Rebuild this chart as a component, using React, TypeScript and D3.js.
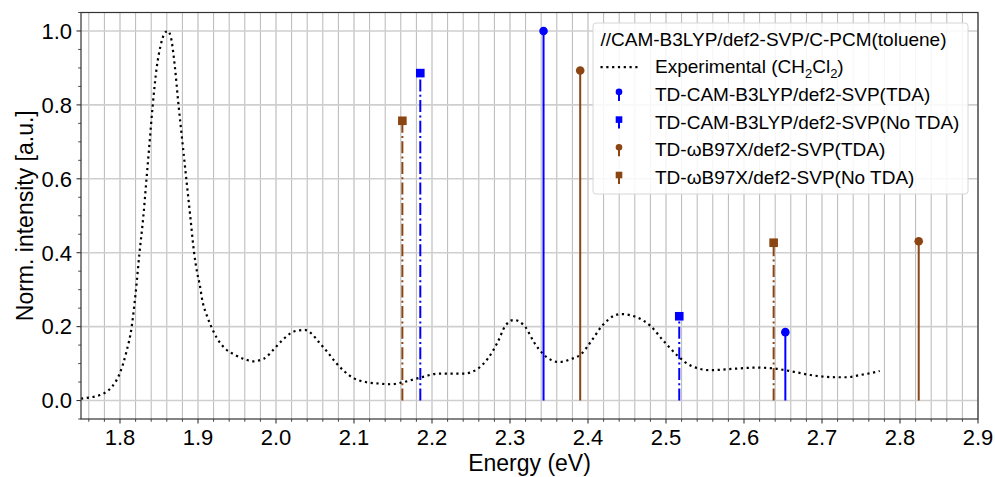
import React from 'react';
import * as d3 from 'd3';

const expEnergy = [1.75, 1.76, 1.77, 1.78, 1.79, 1.8, 1.808, 1.815, 1.82, 1.825, 1.83, 1.834, 1.838, 1.842, 1.847, 1.852, 1.857, 1.861, 1.865, 1.87, 1.875, 1.88, 1.885, 1.89, 1.895, 1.899, 1.902, 1.906, 1.911, 1.917, 1.924, 1.934, 1.946, 1.961, 1.97, 1.985, 1.996, 2.008, 2.021, 2.03, 2.037, 2.045, 2.055, 2.066, 2.077, 2.087, 2.1, 2.115, 2.132, 2.147, 2.164, 2.185, 2.209, 2.241, 2.258, 2.271, 2.284, 2.294, 2.305, 2.32, 2.331, 2.342, 2.363, 2.378, 2.391, 2.403, 2.418, 2.433, 2.442, 2.463, 2.48, 2.497, 2.515, 2.532, 2.557, 2.587, 2.617, 2.638, 2.653, 2.668, 2.685, 2.7, 2.717, 2.732, 2.749, 2.764, 2.774];
const expIntensity = [0.005, 0.008, 0.012, 0.02, 0.038, 0.075, 0.13, 0.2, 0.29, 0.4, 0.5, 0.6, 0.7, 0.8, 0.9, 0.96, 0.993, 1.0, 0.985, 0.91, 0.8, 0.7, 0.6, 0.5, 0.4, 0.345, 0.316, 0.266, 0.232, 0.2, 0.17, 0.142, 0.125, 0.111, 0.106, 0.114, 0.136, 0.163, 0.185, 0.19, 0.191, 0.182, 0.158, 0.131, 0.102, 0.08, 0.06, 0.05, 0.046, 0.044, 0.05, 0.062, 0.073, 0.073, 0.085, 0.112, 0.157, 0.202, 0.218, 0.198, 0.157, 0.127, 0.104, 0.112, 0.125, 0.157, 0.202, 0.229, 0.234, 0.225, 0.202, 0.161, 0.121, 0.094, 0.082, 0.086, 0.089, 0.087, 0.082, 0.076, 0.069, 0.065, 0.063, 0.063, 0.069, 0.075, 0.08];

const camTdaEnergy = [2.343, 2.653];
const camTdaIntensity = [1.0, 0.185];
const camNoTdaEnergy = [2.185, 2.517];
const camNoTdaIntensity = [0.886, 0.228];
const wbTdaEnergy = [2.39, 2.824];
const wbTdaIntensity = [0.893, 0.431];
const wbNoTdaEnergy = [2.162, 2.638];
const wbNoTdaIntensity = [0.757, 0.427];

const xTickValues = [1.8, 1.9, 2.0, 2.1, 2.2, 2.3, 2.4, 2.5, 2.6, 2.7, 2.8, 2.9];
const yTickValues = [0.0, 0.2, 0.4, 0.6, 0.8, 1.0];

const legendTitle = '//CAM-B3LYP/def2-SVP/C-PCM(toluene)';
const seriesLabels = [
  'TD-CAM-B3LYP/def2-SVP(TDA)',
  'TD-CAM-B3LYP/def2-SVP(No TDA)',
  'TD-ωB97X/def2-SVP(TDA)',
  'TD-ωB97X/def2-SVP(No TDA)',
];

const BLUE = '#0000ff';
const BROWN = '#8b4513';
const FONT = '"Liberation Sans", Arial, Helvetica, sans-serif';

const W = 995, H = 477;
const L = 81, R = 978, T = 12.5, B = 419;

export default function App() {
  const x = d3.scaleLinear().domain([1.75, 2.9]).range([L, R]);
  const y = d3.scaleLinear().domain([-0.05, 1.05]).range([B, T]);

  const minorX = d3.range(1.76, 2.9001, 0.02).filter(v => Math.abs(Math.round(v * 10) - v * 10) > 1e-6);
  const minorY = d3.range(-0.05, 1.0501, 0.05).filter(v => Math.abs(Math.round(v * 5) - v * 5) > 1e-6);

  const line = d3.line<number>()
    .x((_, i) => x(expEnergy[i]))
    .y(d => y(d))
    .curve(d3.curveMonotoneX);

  const series = [
    { e: camTdaEnergy, v: camTdaIntensity, color: BLUE, square: false, dash: null as string | null },
    { e: camNoTdaEnergy, v: camNoTdaIntensity, color: BLUE, square: true, dash: '12,3.3,2,3.3' },
    { e: wbTdaEnergy, v: wbTdaIntensity, color: BROWN, square: false, dash: null },
    { e: wbNoTdaEnergy, v: wbNoTdaIntensity, color: BROWN, square: true, dash: '12,3.3,2,3.3' },
  ];

  const fs = 22;
  const lfs = 19;
  const legX = 593, legY = 23, legW = 375, legH = 171;
  const rowY = (i: number) => 38.5 + i * 27.7;

  return (
    <svg width={W} height={H} style={{ position: 'absolute', left: 0, top: 0, background: '#fff' }} fontFamily={FONT}>
      <rect x={0} y={0} width={W} height={H} fill="#fff" />
      <defs>
        <clipPath id="plotclip"><rect x={L} y={T} width={R - L} height={B - T} /></clipPath>
      </defs>
      {minorX.map((v, i) => (
        <line key={'mx' + i} x1={x(v)} x2={x(v)} y1={T} y2={B} stroke="#b0b0b0" strokeWidth={0.9} />
      ))}
      {xTickValues.map((v, i) => (
        <line key={'gx' + i} x1={x(v)} x2={x(v)} y1={T} y2={B} stroke="#cfcfcf" strokeWidth={1.6} />
      ))}
      {yTickValues.map((v, i) => (
        <line key={'gy' + i} x1={L} x2={R} y1={y(v)} y2={y(v)} stroke="#cfcfcf" strokeWidth={1.6} />
      ))}
      <g clipPath="url(#plotclip)">
        <path d={line(expIntensity) || ''} fill="none" stroke="#000" strokeWidth={2.2} strokeDasharray="2.2,3.6" />
        {series.map((s, si) => (
          <g key={'s' + si}>
            {s.e.map((e, i) => (
              <g key={i}>
                <line x1={x(e)} x2={x(e)} y1={y(0)} y2={y(s.v[i])} stroke={s.color} strokeWidth={2}
                  strokeDasharray={s.dash || undefined} />
                {s.square
                  ? <rect x={x(e) - 4.3} y={y(s.v[i]) - 4.3} width={8.6} height={8.6} fill={s.color} />
                  : <circle cx={x(e)} cy={y(s.v[i])} r={4.3} fill={s.color} />}
              </g>
            ))}
          </g>
        ))}
      </g>
      <rect x={L} y={T} width={R - L} height={B - T} fill="none" stroke="#333" strokeWidth={1.2} />
      {minorX.map((v, i) => (
        <line key={'mtx' + i} x1={x(v)} x2={x(v)} y1={B} y2={B + 2.8} stroke="#333" strokeWidth={0.9} />
      ))}
      {xTickValues.map((v, i) => (
        <g key={'tx' + i}>
          <line x1={x(v)} x2={x(v)} y1={B} y2={B + 4.5} stroke="#333" strokeWidth={1.1} />
          <text x={x(v)} y={445} textAnchor="middle" fontSize={fs} fill="#000">{v.toFixed(1)}</text>
        </g>
      ))}
      {minorY.map((v, i) => (
        <line key={'mty' + i} x1={L} x2={L - 2.8} y1={y(v)} y2={y(v)} stroke="#333" strokeWidth={0.9} />
      ))}
      {yTickValues.map((v, i) => (
        <g key={'ty' + i}>
          <line x1={L} x2={L - 4.5} y1={y(v)} y2={y(v)} stroke="#333" strokeWidth={1.1} />
          <text x={72} y={y(v) + 7.8} textAnchor="end" fontSize={fs} fill="#000">{v.toFixed(1)}</text>
        </g>
      ))}
      <text x={(L + R) / 2} y={471} textAnchor="middle" fontSize={23} fill="#000">Energy (eV)</text>
      <text transform={`translate(33,${(T + B) / 2}) rotate(-90)`} textAnchor="middle" fontSize={23} fill="#000">Norm. intensity [a.u.]</text>
      <rect x={legX} y={legY} width={legW} height={legH} rx={3} fill="#fff" fillOpacity={0.85} stroke="#d6d6d6" strokeWidth={1} />
      <text x={600.5} y={rowY(0) + 7} fontSize={lfs} fill="#000">{legendTitle}</text>
      <line x1={600.5} x2={637.5} y1={rowY(1) + 1} y2={rowY(1) + 1} stroke="#000" strokeWidth={2.2} strokeDasharray="2.2,3.6" />
      <text x={655} y={rowY(1) + 7} fontSize={lfs} fill="#000">
        Experimental (CH<tspan fontSize={13} dy={5}>2</tspan><tspan dy={-5}>Cl</tspan><tspan fontSize={13} dy={5}>2</tspan><tspan dy={-5}>)</tspan>
      </text>
      {series.map((s, i) => {
        const cy = rowY(i + 2);
        return (
          <g key={'leg' + i}>
            <line x1={619} x2={619} y1={cy - 2} y2={cy + 7} stroke={s.color} strokeWidth={2} />
            {s.square
              ? <rect x={619 - 3.3} y={cy - 5.3} width={6.6} height={6.6} fill={s.color} />
              : <circle cx={619} cy={cy - 2} r={3.3} fill={s.color} />}
            <text x={655} y={cy + 7} fontSize={lfs} fill="#000">{seriesLabels[i]}</text>
          </g>
        );
      })}
    </svg>
  );
}
